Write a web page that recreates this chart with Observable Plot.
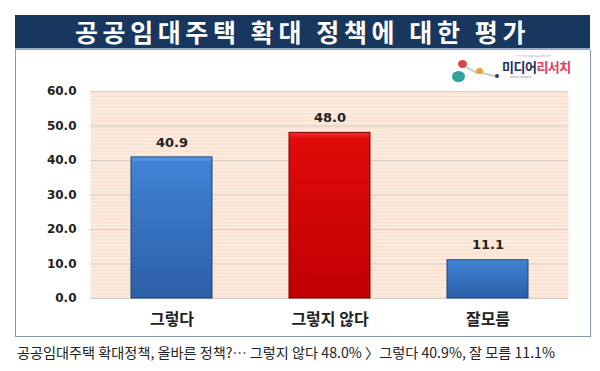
<!DOCTYPE html>
<html><head><meta charset="utf-8">
<script src="https://cdn.jsdelivr.net/npm/d3@7"></script>
<script src="https://cdn.jsdelivr.net/npm/@observablehq/plot@0.6"></script>
<style>
body{margin:0;width:600px;height:371px;position:relative;background:#fff;overflow:hidden;font-family:"Noto Sans CJK KR",sans-serif}
#title{position:absolute;left:15px;top:15px;width:575px;height:33px;background:#17375e;border-bottom:2px solid #95abcb;color:#fff;font-weight:bold;font-size:25px;letter-spacing:4.6px;text-align:center;line-height:33px}
#box{position:absolute;left:15px;top:50px;width:574px;height:286px;border:1.5px solid #8497b0;border-top:none}
#chart{position:absolute;left:0;top:51px}
#caption{position:absolute;left:17px;top:342px;font-size:14px;color:#222;white-space:nowrap;transform-origin:0 0}
#logo{position:absolute;left:450px;top:55px;width:125px;height:28px}
.dot{position:absolute;border-radius:50%}
.link{position:absolute;height:1.5px;background:#c8c8c8;transform-origin:0 50%}
#logo .name{position:absolute;left:52px;top:6px;font-size:13px;font-weight:bold;letter-spacing:-0.5px;color:#1f2f5c;line-height:12px}
#logo .name span{color:#e0405a}
#logo .tiny{position:absolute;font-size:3px;color:#889;line-height:3px;height:3px;white-space:nowrap;overflow:hidden}
</style></head>
<body>
<div id="box"></div>
<div id="title">공공임대주택 확대 정책에 대한 평가</div>
<div id="logo">
  <div class="link" style="left:12px;top:9px;width:18px;transform:rotate(28deg)"></div>
  <div class="link" style="left:29px;top:16px;width:19px;transform:rotate(15deg)"></div>
  <div class="link" style="left:8px;top:21px;width:6px;transform:rotate(-70deg)"></div>
  <div class="dot" style="left:8px;top:5px;width:9px;height:8px;background:#d9434e"></div>
  <div class="dot" style="left:26px;top:13px;width:7px;height:6px;background:#f0a030"></div>
  <div class="dot" style="left:2px;top:16px;width:13px;height:11px;background:#2fa3a0"></div>
  <div class="dot" style="left:45px;top:19px;width:4px;height:4px;background:#1f3f7a"></div>
  <div class="tiny" style="left:66px;top:0px">우리나라 대표 여론조사기관</div>
  <div class="name">미디어<span>리서치</span></div>
  <div class="tiny" style="left:60px;top:21px">media research</div>
</div>
<div id="chart"></div>
<div id="caption">공공임대주택 확대정책, 올바른 정책?… 그렇지 않다 48.0% 〉그렇다 40.9%, 잘 모름 11.1%</div>
<script>
const categories = ["그렇다", "그렇지 않다", "잘모름"];
const values = [40.9, 48.0, 11.1];
const barColors = ["blue", "red", "blue"];
const yTicks = [0, 10, 20, 30, 40, 50, 60];

const data = categories.map((c, i) => ({category: c, value: values[i], color: barColors[i]}));

const defs = () => {
  const d = d3.create("svg:defs");
  const p = d.append("pattern").attr("id", "stripes").attr("patternUnits", "userSpaceOnUse")
    .attr("width", 8).attr("height", 3.4);
  p.append("rect").attr("width", 8).attr("height", 3.4).attr("fill", "#fbe3d3");
  p.append("rect").attr("y", 2.4).attr("width", 8).attr("height", 1).attr("fill", "#fdf0e7");
  const gb = d.append("linearGradient").attr("id", "gBlue").attr("x1", 0).attr("y1", 0).attr("x2", 0).attr("y2", 1);
  gb.append("stop").attr("offset", "0%").attr("stop-color", "#5b9de6");
  gb.append("stop").attr("offset", "4%").attr("stop-color", "#3f82d4");
  gb.append("stop").attr("offset", "100%").attr("stop-color", "#2c5fa8");
  const gr = d.append("linearGradient").attr("id", "gRed").attr("x1", 0).attr("y1", 0).attr("x2", 0).attr("y2", 1);
  gr.append("stop").attr("offset", "0%").attr("stop-color", "#f03030");
  gr.append("stop").attr("offset", "4%").attr("stop-color", "#e00a0a");
  gr.append("stop").attr("offset", "100%").attr("stop-color", "#c00000");
  return d.node();
};

const chart = Plot.plot({
  width: 600,
  height: 286,
  marginTop: 40,
  marginBottom: 39,
  marginLeft: 90,
  marginRight: 32,
  style: {background: "transparent", overflow: "visible"},
  x: {domain: categories, paddingInner: 0.49, paddingOuter: 0.25, label: null},
  y: {domain: [0, 60], label: null},
  marks: [
    defs,
    Plot.frame({fill: "url(#stripes)", stroke: null}),
    Plot.ruleY(yTicks, {stroke: "#d3ccc7", strokeWidth: 1}),
    Plot.barY(data.filter(d => d.color === "blue"), {x: "category", y: "value", fill: "url(#gBlue)", stroke: "#1d4478", strokeWidth: 1}),
    Plot.barY(data.filter(d => d.color === "red"), {x: "category", y: "value", fill: "url(#gRed)", stroke: "#7a0000", strokeWidth: 1}),
    Plot.text(data, {x: "category", y: "value", text: d => d.value.toFixed(1), dy: -15,
      fontFamily: "DejaVu Sans", fontWeight: "bold", fontSize: 13, fill: "#222"}),
    Plot.axisY({ticks: yTicks, tickFormat: d3.format(".1f"), tickSize: 0, tickPadding: 14, label: null,
      fontFamily: "DejaVu Sans", fontWeight: "bold", fontSize: 12, fill: "#222"}),
    Plot.axisX({tickSize: 0, tickPadding: 15, label: null,
      fontFamily: "Noto Sans CJK KR", fontWeight: "bold", fontSize: 16, fill: "#222"})
  ]
});
document.getElementById("chart").appendChild(chart);

const cap = document.getElementById("caption");
const w = cap.getBoundingClientRect().width;
cap.style.transform = `scaleX(${538 / w})`;
</script>
</body></html>
